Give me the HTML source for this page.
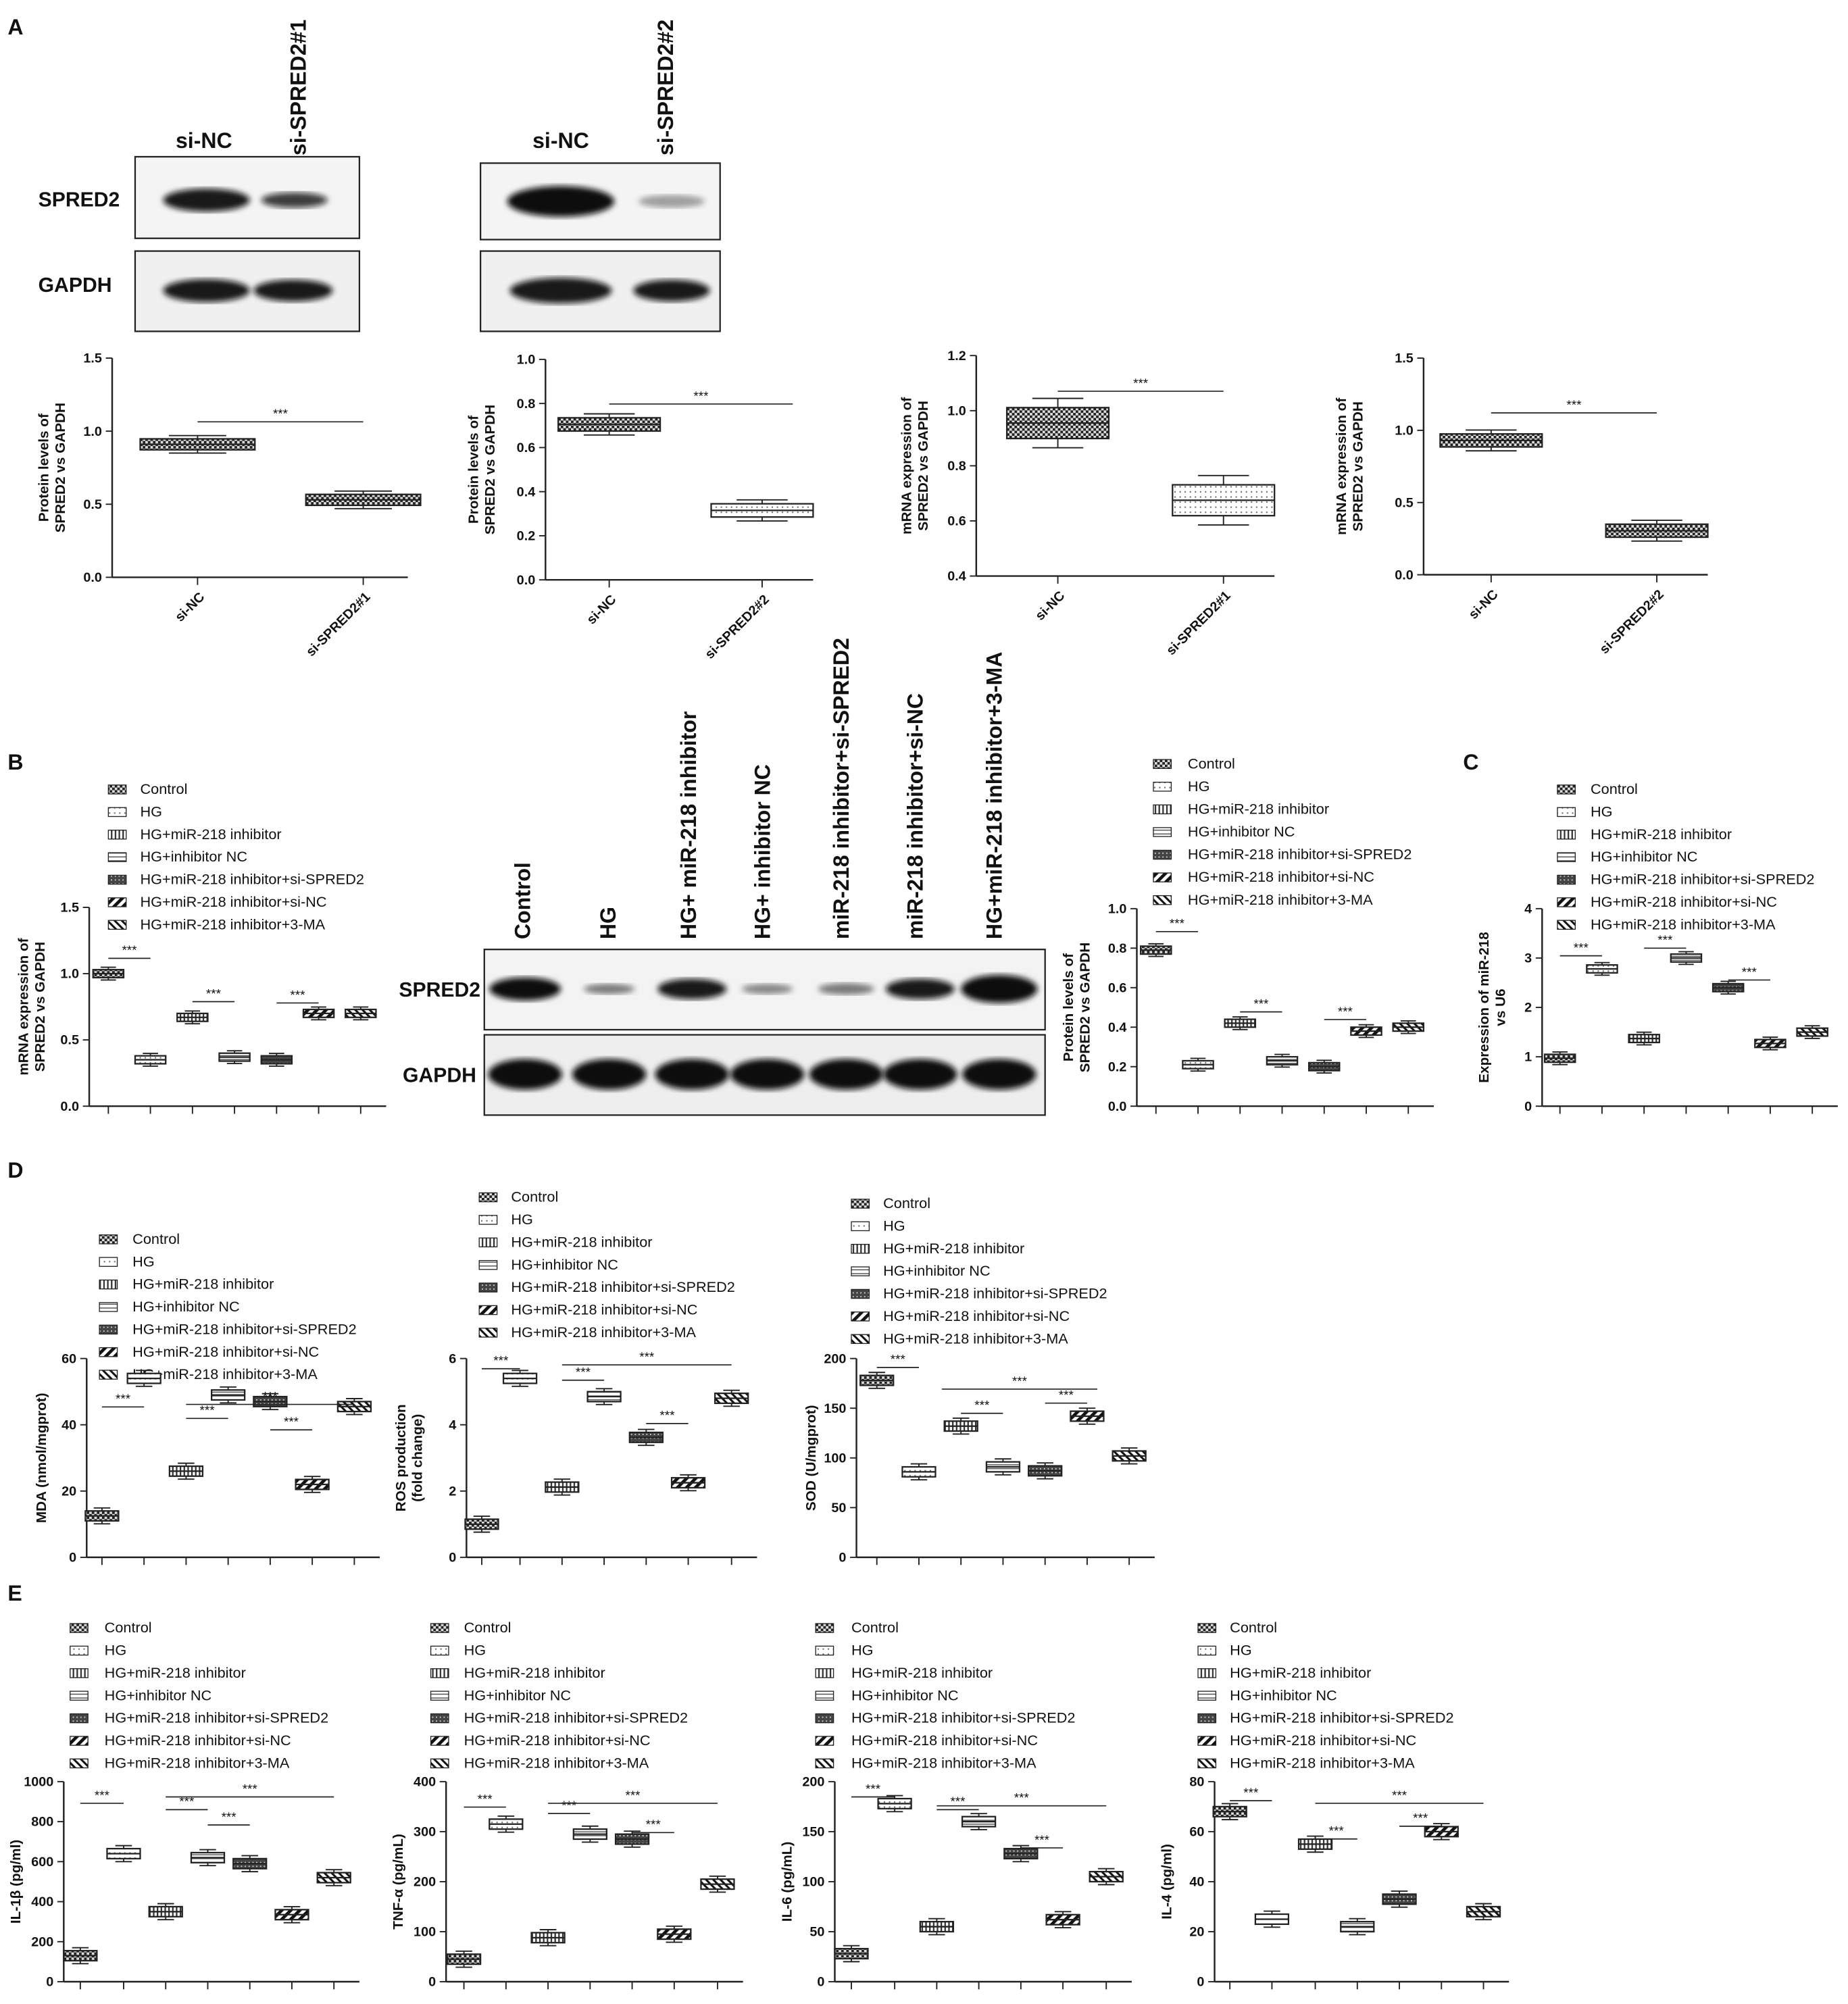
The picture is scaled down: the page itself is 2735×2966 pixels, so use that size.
<!DOCTYPE html>
<html><head><meta charset="utf-8"><style>
html,body{margin:0;padding:0;background:#fff}
svg{display:block}
text{font-family:"Liberation Sans",Arial,sans-serif;fill:#111}
</style></head><body>
<svg id="s" width="2735" height="2966" viewBox="0 0 1450 1572.5" xmlns="http://www.w3.org/2000/svg">
<defs>
<pattern id="p0" width="4" height="4" patternUnits="userSpaceOnUse"><rect width="4" height="4" fill="#222"/><rect width="2" height="2" fill="#ddd"/><rect x="2" y="2" width="2" height="2" fill="#ddd"/></pattern>
<pattern id="p1" width="4" height="4" patternUnits="userSpaceOnUse"><rect width="4" height="4" fill="#fff"/><circle cx="2" cy="2" r="0.6" fill="#666"/></pattern>
<pattern id="p2" width="3" height="3" patternUnits="userSpaceOnUse"><rect width="3" height="3" fill="#fff"/><rect width="1.2" height="3" fill="#333"/></pattern>
<pattern id="p3" width="3" height="3" patternUnits="userSpaceOnUse"><rect width="3" height="3" fill="#fff"/><rect width="3" height="0.8" fill="#555"/></pattern>
<pattern id="p4" width="3" height="3" patternUnits="userSpaceOnUse"><rect width="3" height="3" fill="#444"/><rect width="1" height="1" fill="#ccc"/></pattern>
<pattern id="p5" width="5" height="5" patternUnits="userSpaceOnUse" patternTransform="rotate(45)"><rect width="5" height="5" fill="#fff"/><rect width="2.5" height="5" fill="#111"/></pattern>
<pattern id="p6" width="4" height="4" patternUnits="userSpaceOnUse" patternTransform="rotate(-45)"><rect width="4" height="4" fill="#fff"/><rect width="1.6" height="4" fill="#111"/></pattern>
<filter id="bl"><feGaussianBlur stdDeviation="2.2"/></filter>
</defs>
<g id="g"></g>
</svg>
<script>
var g=document.getElementById('g'),out='';
function T(x,y,s,opt){opt=opt||{};out+='<text x="'+x+'" y="'+y+'" font-size="'+(opt.fs||11)+'"'+(opt.b?' font-weight="bold"':'')+(opt.a?' text-anchor="'+opt.a+'"':'')+(opt.r!=null?' transform="rotate('+opt.r+' '+x+' '+y+')"':'')+'>'+s+'</text>';}
function L(x1,y1,x2,y2,w){out+='<line x1="'+x1+'" y1="'+y1+'" x2="'+x2+'" y2="'+y2+'" stroke="#222" stroke-width="'+(w||1)+'"/>';}
function R(x,y,w,h,f,sw){out+='<rect x="'+x+'" y="'+y+'" width="'+w+'" height="'+h+'" fill="'+f+'" stroke="#222" stroke-width="'+(sw||1)+'"/>';}
var names=['Control','HG','HG+miR-218 inhibitor','HG+inhibitor NC','HG+miR-218 inhibitor+si-SPRED2','HG+miR-218 inhibitor+si-NC','HG+miR-218 inhibitor+3-MA'];
function legend(x,y,tx,dy){for(var i=0;i<7;i++){R(x,y+i*dy-7,14,7,'url(#p'+i+')',0.7);T(tx,y+i*dy,names[i],{fs:11.5});}}
function chart(o){
 var ax=o.ax,y0=o.y0,yt=o.yt,mn=o.min||0,mx=o.max;
 function Y(v){return y0-(v-mn)/(mx-mn)*(y0-yt);}
 var xe=o.xs[o.xs.length-1]+(o.xe||20);
 L(ax,yt,ax,y0,1.3);L(ax,y0,xe,y0,1.3);
 for(var v=mn;v<=mx+1e-9;v+=o.step){var yy=Y(v);L(ax-5,yy,ax,yy);T(ax-8,yy+3.5,o.fmt?o.fmt(v):v,{fs:10.5,a:'end',b:1});}
 for(var i=0;i<o.xs.length;i++){var x=o.xs[i];L(x,y0,x,y0+6);
  var v=o.v[i],sp=o.sp*(mx-mn),bw=o.bw||28,p=o.pat?o.pat[i]:i;
  var top=Y(v+sp),bot=Y(v-sp),wt=Y(v+sp*1.6),wb=Y(v-sp*1.6);
  L(x,wt,x,wb);L(x-bw/4,wt,x+bw/4,wt);L(x-bw/4,wb,x+bw/4,wb);
  R(x-bw/2,top,bw,bot-top,'url(#p'+p+')',1.2);L(x-bw/2,Y(v),x+bw/2,Y(v),1.2);}
 (o.sig||[]).forEach(function(s){L(s[0],s[2],s[1],s[2],0.9);T((s[0]+s[1])/2,s[2]-3,'***',{fs:10,a:'middle'});});
 var yl=o.yl,cy=(yt+y0)/2;
 for(var k=0;k<yl.length;k++){var lx=o.ylx+k*13;T(lx,cy,yl[k],{fs:11,b:1,a:'middle',r:-90});}
 (o.xl||[]).forEach(function(s,i){T(o.xs[i]+6,y0+16,s,{fs:10.5,b:1,a:'end',r:-45});});
}
function band(cx,cy,w,h,d){out+='<ellipse cx="'+cx+'" cy="'+cy+'" rx="'+w/2+'" ry="'+h/2+'" fill="rgba(10,10,10,'+d+')" filter="url(#bl)"/>';}
T(6,27,'A',{fs:17,b:1});T(6,604,'B',{fs:17,b:1});T(1148,604,'C',{fs:17,b:1});T(6,924,'D',{fs:17,b:1});T(6,1256,'E',{fs:17,b:1});
T(30,162,'SPRED2',{fs:16,b:1});T(30,229,'GAPDH',{fs:16,b:1});
T(160,116,'si-NC',{fs:17,b:1,a:'middle'});T(240,122,'si-SPRED2#1',{fs:17,b:1,r:-90});
out+='<rect x="106" y="123" width="176" height="64" fill="#f4f4f4" stroke="#222" stroke-width="1.2"/><rect x="106" y="197" width="176" height="63" fill="#f0f0f0" stroke="#222" stroke-width="1.2"/>';
band(162,157,68,18,0.95);band(231,157,52,12,0.8);band(162,228,68,18,0.95);band(230,228,62,17,0.95);
T(440,116,'si-NC',{fs:17,b:1,a:'middle'});T(528,122,'si-SPRED2#2',{fs:17,b:1,r:-90});
out+='<rect x="377" y="128" width="188" height="60" fill="#f4f4f4" stroke="#222" stroke-width="1.2"/><rect x="377" y="197" width="188" height="63" fill="#f0f0f0" stroke="#222" stroke-width="1.2"/>';
band(440,158,84,24,1);band(527,158,52,10,0.35);band(440,228,80,20,0.95);band(527,228,60,17,0.95);
chart({ax:88,y0:453,yt:281,max:1.5,step:0.5,fmt:function(v){return v.toFixed(1)},xs:[155,285],xe:35,v:[0.91,0.53],sp:0.025,bw:90,pat:[0,0],sig:[[155,285,331]],yl:['Protein levels of','SPRED2 vs GAPDH'],ylx:38,xl:['si-NC','si-SPRED2#1']});
chart({ax:428,y0:455,yt:282,max:1.0,step:0.2,fmt:function(v){return v.toFixed(1)},xs:[478,598],xe:40,v:[0.705,0.315],sp:0.03,bw:80,pat:[0,1],sig:[[478,622,317]],yl:['Protein levels of','SPRED2 vs GAPDH'],ylx:375,xl:['si-NC','si-SPRED2#2']});
chart({ax:766,y0:452,yt:279,min:0.4,max:1.2,step:0.2,fmt:function(v){return v.toFixed(1)},xs:[830,960],xe:40,v:[0.955,0.675],sp:0.07,bw:80,pat:[0,1],sig:[[830,960,307]],yl:['mRNA expression of','SPRED2 vs GAPDH'],ylx:715,xl:['si-NC','si-SPRED2#1']});
chart({ax:1117,y0:451,yt:281,max:1.5,step:0.5,fmt:function(v){return v.toFixed(1)},xs:[1170,1300],xe:40,v:[0.93,0.305],sp:0.03,bw:80,pat:[0,0],sig:[[1170,1300,324]],yl:['mRNA expression of','SPRED2 vs GAPDH'],ylx:1056,xl:['si-NC','si-SPRED2#2']});
legend(85,623,110,17.7);
chart({ax:70,y0:868,yt:712,max:1.5,step:0.5,fmt:function(v){return v.toFixed(1)},xs:[85,118,151,184,217,250,283],v:[1.0,0.35,0.67,0.37,0.35,0.7,0.7],sp:0.02,bw:24,sig:[[85,118,752],[151,184,786],[217,250,787]],yl:['mRNA expression of','SPRED2 vs GAPDH'],ylx:22});
var bl=['Control','HG','HG+ miR-218 inhibitor','HG+ inhibitor NC','miR-218 inhibitor+si-SPRED2','miR-218 inhibitor+si-NC','HG+miR-218 inhibitor+3-MA'],bx=[416,483,546,604,666,724,786];
for(var i=0;i<7;i++)T(bx[i],737,bl[i],{fs:17,b:1,r:-90});
T(313,782,'SPRED2',{fs:16,b:1});T(316,849,'GAPDH',{fs:16,b:1});
out+='<rect x="380" y="745" width="440" height="63" fill="#f3f3f3" stroke="#222" stroke-width="1.2"/><rect x="380" y="812" width="440" height="63" fill="#eee" stroke="#222" stroke-width="1.2"/>';
var bd=[[56,18,1],[40,8,0.5],[54,16,0.95],[40,8,0.45],[44,9,0.5],[54,16,0.95],[60,22,1]];
var bc=[412,478,543,602,664,722,784];
for(var i=0;i<7;i++){band(bc[i],776,bd[i][0],bd[i][1],bd[i][2]);band(bc[i],843,58,24,1);}
legend(905,603,932,17.8);
chart({ax:892,y0:868,yt:713,max:1.0,step:0.2,fmt:function(v){return v.toFixed(1)},xs:[907,940,973,1006,1039,1072,1105],v:[0.79,0.21,0.42,0.23,0.2,0.38,0.4],sp:0.02,bw:24,sig:[[907,940,731],[973,1006,794],[1039,1072,800]],yl:['Protein levels of','SPRED2 vs GAPDH'],ylx:842});
legend(1222,623,1248,17.7);
chart({ax:1210,y0:868,yt:713,max:4,step:1,xs:[1224,1257,1290,1323,1356,1389,1422],v:[0.97,2.78,1.37,3.0,2.4,1.27,1.5],sp:0.02,bw:24,sig:[[1224,1257,750],[1290,1323,744],[1356,1389,769]],yl:['Expression of miR-218','vs U6'],ylx:1168});
legend(78,976,104,17.7);
chart({ax:68,y0:1222,yt:1066,max:60,step:20,xs:[80,113,146,179,212,245,278],v:[12.5,54,26,49,47,22,45.5],sp:0.025,bw:26,sig:[[80,113,1104],[146,179,1113],[212,245,1122],[146,278,1102]],yl:['MDA (nmol/mgprot)'],ylx:36});
legend(376,943,401,17.7);
chart({ax:366,y0:1222,yt:1066,max:6,step:2,xs:[378,408,441,474,507,540,574],v:[1.0,5.4,2.12,4.85,3.62,2.25,4.8],sp:0.025,bw:26,sig:[[378,408,1074],[441,474,1083],[507,540,1117],[441,574,1071]],yl:['ROS production','(fold change)'],ylx:318});
legend(668,948,693,17.7);
chart({ax:672,y0:1222,yt:1066,max:200,step:50,xs:[688,721,754,787,820,853,886],v:[178,86,132,91,87,142,102],sp:0.025,bw:26,sig:[[688,721,1073],[754,787,1109],[739,861,1090],[820,853,1101]],yl:['SOD (U/mgprot)'],ylx:640});
var ex=[[55,82,50,[63,97,130,163,196,229,262],1000,200,[130,640,350,620,590,335,520],'IL-1β (pg/ml)',[[63,97,1415],[130,163,1420],[163,196,1432],[130,262,1410]]],
[338,364,350,[364,397,430,463,496,529,563],400,100,[45,315,88,295,285,95,195],'TNF-α (pg/mL)',[[364,397,1418],[430,463,1423],[496,529,1438],[430,563,1415]]],
[640,668,655,[668,702,735,768,801,834,868],200,50,[28,178,55,160,128,62,105],'IL-6 (pg/mL)',[[668,702,1410],[735,768,1420],[801,834,1450],[735,868,1417]]],
[940,965,953,[965,998,1032,1065,1098,1131,1164],80,20,[68,25,55,22,33,60,28],'IL-4 (pg/ml)',[[965,998,1413],[1032,1065,1443],[1098,1131,1433],[1032,1164,1415]]]];
ex.forEach(function(e){legend(e[0],1281,e[1],17.7);
chart({ax:e[2],y0:1555,yt:1398,max:e[4],step:e[5],xs:e[3],v:e[6],sp:0.025,bw:26,sig:e[8],yl:[e[7]],ylx:e[2]-34});});
g.innerHTML=out;
</script>
</body></html>
